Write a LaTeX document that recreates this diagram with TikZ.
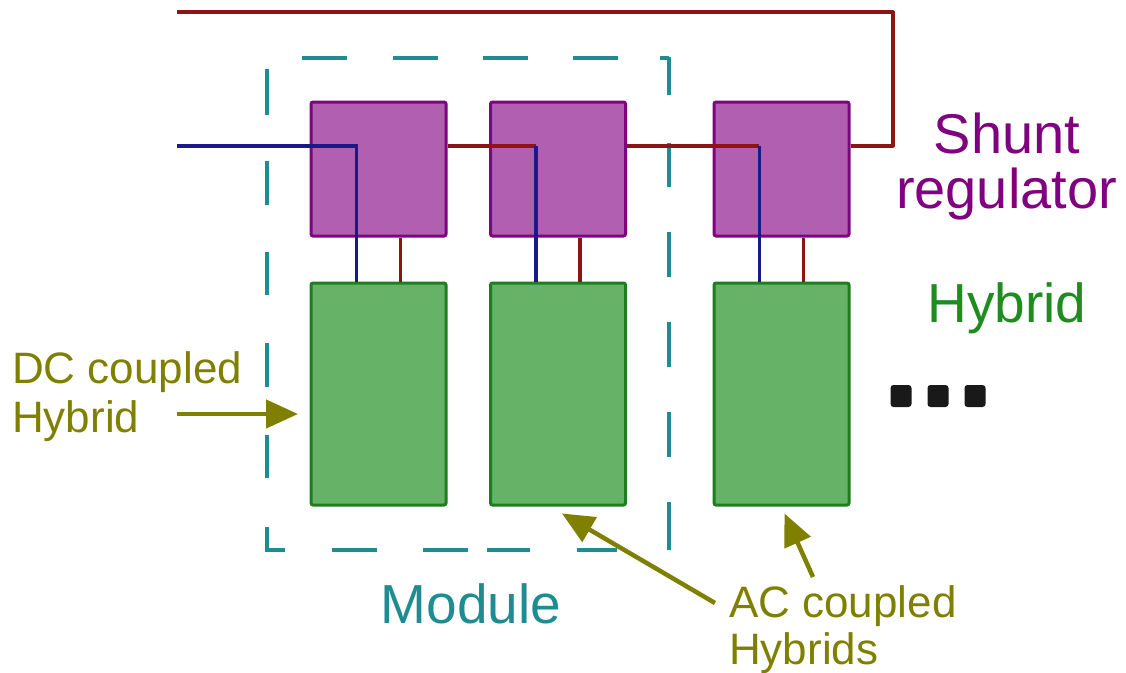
\documentclass[tikz,border=0pt]{standalone}
\usepackage{fontspec}
\setmainfont{Liberation Sans}
\usetikzlibrary{arrows.meta,calc}
\definecolor{srfill}{RGB}{177,96,177}
\definecolor{srline}{RGB}{125,5,125}
\definecolor{hyfill}{RGB}{102,178,102}
\definecolor{hyline}{RGB}{30,125,30}
\definecolor{wirered}{RGB}{140,20,20}
\definecolor{wireblue}{RGB}{25,25,140}
\definecolor{modteal}{RGB}{30,140,145}
\definecolor{olivetxt}{RGB}{128,128,0}
\definecolor{srtxt}{RGB}{128,0,128}
\definecolor{hytxt}{RGB}{30,140,30}
\tikzset{
  srbox/.style={draw=srline,fill=srfill,line width=3pt,rounded corners=2pt,minimum width=135pt,minimum height=134pt,inner sep=0pt},
  hybox/.style={draw=hyline,fill=hyfill,line width=3pt,rounded corners=2pt,minimum width=135pt,minimum height=222pt,inner sep=0pt},
  redw/.style={draw=wirered,line width=3.2pt},
  bluew/.style={draw=wireblue,line width=3.2pt},
  moddash/.style={draw=modteal,line width=4pt},
  callout/.style={draw=olivetxt,line width=4.5pt,-{Triangle[length=32pt,width=28pt]}},
  bigtxt/.style={inner sep=0pt,anchor=base,font=\fontsize{56}{56}\selectfont},
  midtxt/.style={inner sep=0pt,anchor=base west,font=\fontsize{44}{44}\selectfont,text=olivetxt},
  dotbox/.style={fill=black!90,rounded corners=3pt,minimum width=21pt,minimum height=22pt,inner sep=0pt}
}
\begin{document}
\begin{tikzpicture}[x=1pt,y=-1pt]
\useasboundingbox (0,0) rectangle (1126,672);
% dashed module outline
\foreach \a/\b in {302/347,393/438,483/528,573/618}
  \draw[moddash] (\a,58) -- (\b,58);
\foreach \a/\b in {332/377,423/468,487/530,577/617}
  \draw[moddash] (\a,550) -- (\b,550);
\foreach \a/\b in {69/115,161/205,252/295,343/387,435/478}
  \draw[moddash] (267,\a) -- (267,\b);
\draw[moddash] (267,527) -- (267,550) -- (285,550);
\foreach \a/\b in {57/95,143/187,232/277,322/367,412/457,502/550}
  \draw[moddash] (669,\a) -- (669,\b);
\draw[moddash] (660,58) -- (669,58);
% boxes
\node[srbox] (sr1) at (378.5,169) {};
\node[srbox] (sr2) at (558,169) {};
\node[srbox] (sr3) at (781.5,169) {};
\node[hybox] (h1) at (378.5,394) {};
\node[hybox] (h2) at (558,394) {};
\node[hybox] (h3) at (781.5,394) {};
% wire coordinates
\coordinate (in) at (177,146);
\coordinate (topw) at (177,12);
\coordinate (ret) at (893,146);
\foreach \i in {1,2,3}{
  \coordinate (b\i) at ($(h\i.north west)!0.34!(h\i.north east)$);
  \coordinate (r\i) at ($(h\i.north west)!0.66!(h\i.north east)$);
}
% wires
\draw[bluew] (in) -- (in -| b1) -- (b1);
\draw[redw] (r1 |- sr1.south) -- (r1);
\draw[redw] (sr1.east |- in) -- (in -| b2);
\draw[bluew] (in -| b2) -- (b2);
\draw[redw] (r2 |- sr2.south) -- (r2);
\draw[redw] (sr2.east |- in) -- (in -| b3);
\draw[bluew] (in -| b3) -- (b3);
\draw[redw] (r3 |- sr3.south) -- (r3);
\draw[redw,line join=round] (sr3.east |- in) -- (ret) -- (topw -| ret) -- (topw);
% labels
\node[bigtxt,text=srtxt] (shunt) at (1007,153) {Shunt};
\node[bigtxt,text=srtxt] (regul) at (1006.5,208) {regulator};
\node[bigtxt,text=hytxt,font=\fontsize{55}{55}\selectfont] (hyb) at (1007,322) {Hybrid};
\node[bigtxt,text=modteal,font=\fontsize{55}{55}\selectfont] (mod) at (471,623) {Module};
\node[midtxt] (dc1) at (12,383) {DC coupled};
\node[midtxt] (dc2) at (12,432) {Hybrid};
\node[midtxt] (ac1) at (729,617) {AC coupled};
\node[midtxt] (ac2) at (729,664) {Hybrids};
% dots
\node[dotbox] (d1) at (901,396) {};
\node[dotbox] (d2) at (938,396) {};
\node[dotbox] (d3) at (975,396) {};
% callout arrows
\coordinate (dctail) at (177,414);
\coordinate (dctip) at (298,414);
\coordinate (actail1) at (715,603);
\coordinate (actail2) at (813,577);
\draw[callout] (dctail) -- (dctip);
\draw[callout] (actail1) -- ($(h2.south)+(4,7)$);
\draw[callout] (actail2) -- ($(h3.south)+(3,7)$);
\end{tikzpicture}
\end{document}
